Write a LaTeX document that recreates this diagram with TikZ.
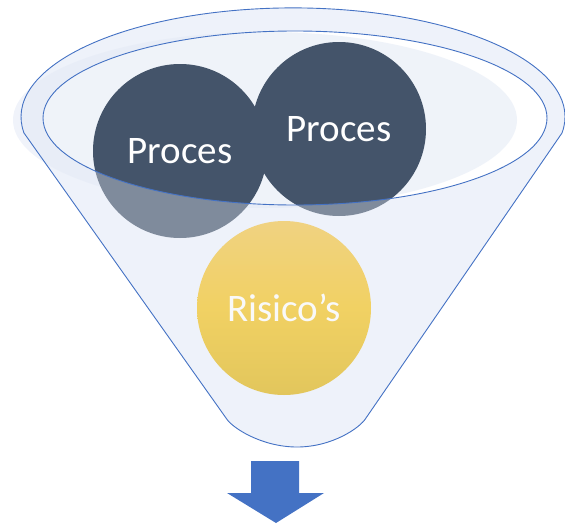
\documentclass[tikz,border=0pt]{standalone}
\usepackage{fontspec}
\setmainfont{Carlito}
\definecolor{rimblue}{HTML}{4472C4}
\definecolor{glass}{HTML}{EEF2FA}
\definecolor{shadowblue}{HTML}{D9E1F2}
\definecolor{slate}{HTML}{44546A}
\definecolor{goldtop}{HTML}{F0D281}
\definecolor{goldmid}{HTML}{F1D163}
\definecolor{goldbot}{HTML}{E2C65C}
\definecolor{arrowblue}{HTML}{4472C4}
% outline of the funnel (pixel units, y down)
\newcommand{\funnelpath}{(24,133) -- (226,418) .. controls (232,428) and (262,447) .. (297,447)
  .. controls (332,447) and (360,428) .. (366,418) -- (562,133)
  arc[start angle=8.5, end angle=-188.5, x radius=272, y radius=109] -- cycle}
\begin{document}
\begin{tikzpicture}[x=1pt,y=-1pt,
    ball/.style={circle,minimum size=174pt,inner sep=0pt,text=white,
      font=\fontsize{39}{45}\selectfont},
    edgeline/.style={draw=rimblue,line width=0.9pt}]
    \useasboundingbox (0,0) rectangle (565,525);

    % funnel body, back side
    \fill[glass] \funnelpath;
    \fill[white] (295,118) ellipse [x radius=252, y radius=87];
    \fill[shadowblue,opacity=0.4] (265,120) ellipse [x radius=252, y radius=88];

    % the two processes
    \node[ball,fill=slate] (P1) at (180,151) {Proces};
    \node[ball,fill=slate] (P2) at (339,129) {Proces};

    % front side of the funnel
    \fill[glass,opacity=0.35,even odd rule] \funnelpath (295,118) ellipse [x radius=252, y radius=87];

    % risks
    \node[ball,top color=goldtop,bottom color=goldbot,middle color=goldmid,text=white!95!gray] (R) at (284,308) {Risico’s};

    % outlines
    \path[edgeline] \funnelpath;
    \path[edgeline] (295,118) ellipse [x radius=252, y radius=87];

    % arrow out of the funnel
    \fill[arrowblue] (251,461) -- (299,461) -- (299,493) -- (324,493) -- (276,523)
      -- (227,493) -- (251,493) -- cycle;
\end{tikzpicture}
\end{document}
